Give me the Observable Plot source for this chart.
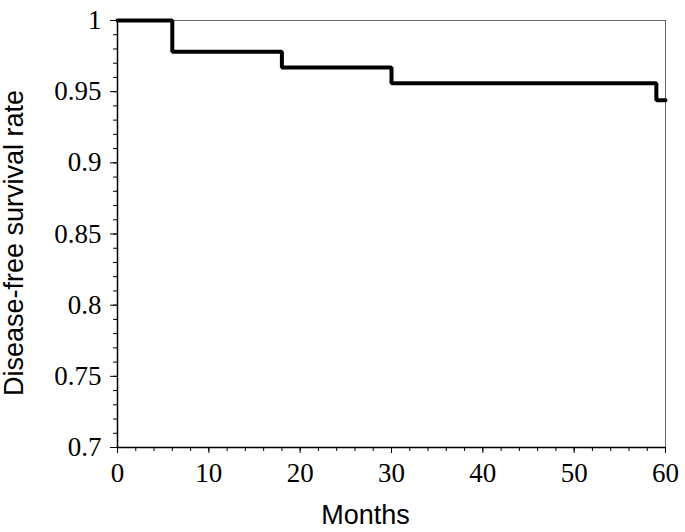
<!DOCTYPE html>
<html>
<head>
<meta charset="utf-8">
<script src="https://cdn.jsdelivr.net/npm/d3@7"></script>
<script src="https://cdn.jsdelivr.net/npm/@observablehq/plot@0.6"></script>
<style>
  html, body { margin: 0; padding: 0; background: #fff; }
</style>
</head>
<body>
<div id="chart"></div>
<script>
const months = [0, 6, 18, 30, 59, 60];
const survival = [1, 0.978, 0.967, 0.956, 0.944, 0.944];
const xMajorTicks = [0, 10, 20, 30, 40, 50, 60];
const xMinorTicks = d3.range(0, 61, 2);
const yMajorTicks = [0.7, 0.75, 0.8, 0.85, 0.9, 0.95, 1];
const yMinorTicks = d3.range(70, 101, 1).map(d => d / 100);
const xTitle = "Months";
const yTitle = "Disease-free survival rate";

const data = months.map((m, i) => ({month: m, rate: survival[i]}));

const chart = Plot.plot({
  width: 685,
  height: 532,
  marginLeft: 117,
  marginRight: 20,
  marginTop: 20,
  marginBottom: 85,
  style: {fontFamily: "Liberation Serif", fontSize: "27px", color: "#000", background: "#fff"},
  x: {domain: [0, 60]},
  y: {domain: [0.7, 1]},
  marks: [
    Plot.ruleY([1], {stroke: "#666", strokeWidth: 1}),
    Plot.ruleX([60], {stroke: "#666", strokeWidth: 1}),
    Plot.axisX({ticks: xMinorTicks, tickSize: 4, tickFormat: () => "", label: null}),
    Plot.axisX({ticks: xMajorTicks, tickSize: 6, tickFormat: () => "", label: null}),
    Plot.axisY({ticks: yMinorTicks, tickSize: 4, tickFormat: () => "", label: null}),
    Plot.axisY({ticks: yMajorTicks, tickSize: 7, tickFormat: () => "", label: null}),
    Plot.text(xMajorTicks, {x: d => d, frameAnchor: "bottom", dy: 15, lineAnchor: "top", text: d => String(d), fontFamily: "Liberation Serif", fontSize: 27, fill: "#000"}),
    Plot.text(yMajorTicks, {y: d => d, frameAnchor: "left", dx: -16, textAnchor: "end", text: d => String(d), fontFamily: "Liberation Serif", fontSize: 27, fill: "#000"}),
    Plot.ruleX([0], {stroke: "#000", strokeWidth: 1.5}),
    Plot.ruleY([0.7], {stroke: "#000", strokeWidth: 1.5}),
    Plot.line(data, {x: "month", y: "rate", curve: "step-after", stroke: "#000", strokeWidth: 4, strokeLinejoin: "miter"}),
    Plot.text([xTitle], {frameAnchor: "bottom", dx: -26, dy: 76, text: d => d, fontFamily: "Liberation Sans", fontSize: 27, fill: "#000"}),
    Plot.text([yTitle], {frameAnchor: "left", dx: -103, dy: 9, rotate: -90, textAnchor: "middle", text: d => d, fontFamily: "Liberation Sans", fontSize: 27, fill: "#000"})
  ]
});
document.getElementById("chart").appendChild(chart);
</script>
</body>
</html>
